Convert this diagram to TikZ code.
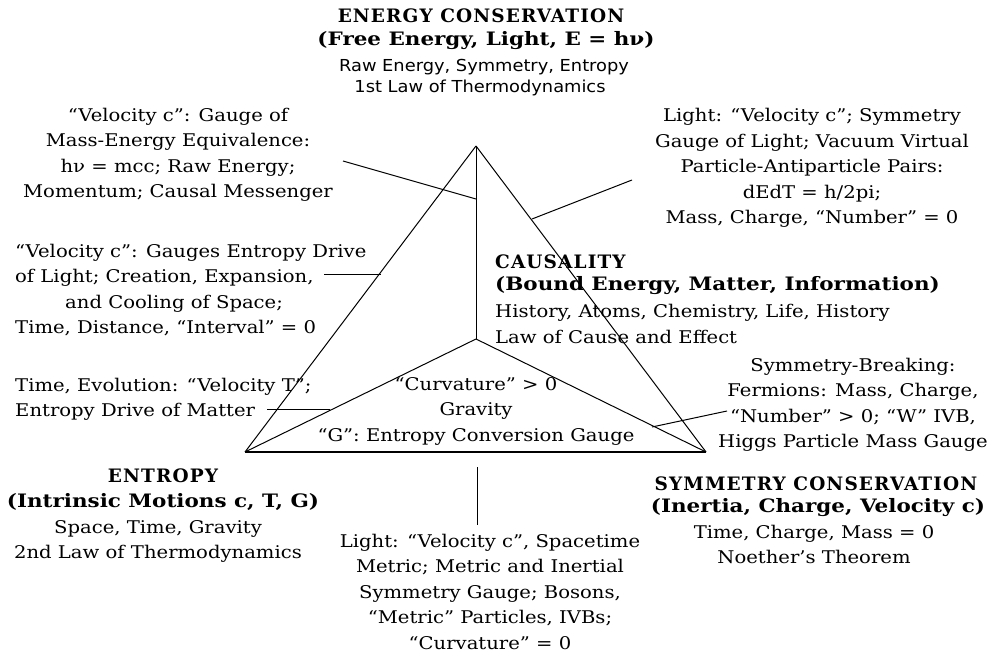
\documentclass[tikz,border=0pt]{standalone}
\usepackage{fontspec}
\setmainfont{DejaVu Serif}
\newfontfamily\bodyf{DejaVu Serif}[FakeStretch=1.12]
\newfontfamily\boldf{DejaVu Serif}[FakeStretch=1.16]
\newfontfamily\capsf{DejaVu Serif}[LetterSpace=6]
\newfontfamily\sansf{DejaVu Sans}[FakeStretch=1.08]
\begin{document}
\begin{tikzpicture}[x=1pt,y=-1pt,
  body/.style={font=\bodyf\fontsize{17.5}{25.5}\selectfont, align=center, inner sep=0pt},
  bhead/.style={font=\boldf\bfseries\fontsize{18.5}{22}\selectfont, inner sep=0pt},
  chead/.style={font=\capsf\bfseries\fontsize{18.5}{20}\selectfont, inner sep=0pt},
  sanst/.style={font=\sansf\fontsize{16.5}{19}\selectfont, inner sep=0pt},
  edgeline/.style={line width=1pt, line join=round},
  baseline2/.style={line width=2pt},
  leader/.style={line width=1pt}]
\useasboundingbox (0,0) rectangle (994,652);
% vertices
\coordinate (A) at (476,146);
\coordinate (BL) at (245,452);
\coordinate (BR) at (706,452);
\coordinate (C) at (476,339);
% triangle
\draw[edgeline] (A) -- (BL);
\draw[edgeline] (A) -- (BR);
\draw[edgeline] (A) -- (C);
\draw[edgeline] (C) -- (BL);
\draw[edgeline] (C) -- (BR);
\draw[baseline2] (BL) -- (BR);
% leader end points
\coordinate (l1a) at (343,161);
\coordinate (l1b) at (476,199);
\coordinate (l2a) at (532,219);
\coordinate (l2b) at (632,180);
\coordinate (l3a) at (324,275);
\coordinate (l3b) at (381,275);
\coordinate (l4a) at (267,410);
\coordinate (l4b) at (330,410);
\coordinate (l5a) at (652,427);
\coordinate (l5b) at (727,411);
\coordinate (l6a) at (477,467);
\coordinate (l6b) at (477,525);
\draw[leader] (l1a) -- (l1b);
\draw[leader] (l2a) -- (l2b);
\draw[leader] (l3a) -- (l3b);
\draw[leader] (l4a) -- (l4b);
\draw[leader] (l5a) -- (l5b);
\draw[leader] (l6a) -- (l6b);
% top
\node[chead] (ec1) at (481,16) {ENERGY CONSERVATION};
\node[bhead] (ec2) at (486,41) {(Free Energy, Light, E = hν)};
\node[sanst] (ec3) at (484,67) {Raw Energy, Symmetry, Entropy};
\node[sanst] (ec4) at (480,88) {1st Law of Thermodynamics};
% left texts
\node[body] (lt1) at (178,155) {“Velocity c”: Gauge of\\Mass-Energy Equivalence:\\hν = mcc; Raw Energy;\\Momentum; Causal Messenger};
\node[body, align=left, anchor=west] (lt2) at (15,290) {“Velocity c”: Gauges Entropy Drive\\of Light; Creation, Expansion,\\\hspace*{50pt}and Cooling of Space;\\Time, Distance, “Interval” = 0};
\node[body, align=left, anchor=west] (lt3) at (15,399.5) {Time, Evolution: “Velocity T”;\\Entropy Drive of Matter};
% right texts
\node[body] (rt1) at (812,168) {Light: “Velocity c”; Symmetry\\Gauge of Light; Vacuum Virtual\\Particle-Antiparticle Pairs:\\dEdT = h/2pi;\\Mass, Charge, “Number” = 0};
\node[chead, anchor=west] (ca1) at (495,262) {CAUSALITY};
\node[bhead, anchor=west] (ca2) at (495,286) {(Bound Energy, Matter, Information)};
\node[body, align=left, anchor=west] (ca3) at (495,324) {History, Atoms, Chemistry, Life, History\\Law of Cause and Effect};
\node[body] (rt2) at (853,405) {Symmetry-Breaking:\\Fermions: Mass, Charge,\\“Number” > 0; “W” IVB,\\Higgs Particle Mass Gauge};
% inner
\node[body] (inner) at (476,411) {“Curvature” > 0\\Gravity\\“G”: Entropy Conversion Gauge};
% bottom left
\node[chead] (en1) at (163,476) {ENTROPY};
\node[bhead] (en2) at (163,502) {(Intrinsic Motions c, T, G)};
\node[body] (en3) at (158,541.5) {Space, Time, Gravity\\2nd Law of Thermodynamics};
% bottom centre
\node[body] (bc) at (490,591.5) {Light: “Velocity c”, Spacetime\\Metric; Metric and Inertial\\Symmetry Gauge; Bosons,\\“Metric” Particles, IVBs;\\“Curvature” = 0};
% bottom right
\node[chead] (sy1) at (816,484) {SYMMETRY CONSERVATION};
\node[bhead] (sy2) at (818,508) {(Inertia, Charge, Velocity c)};
\node[body] (sy3) at (814,544.5) {Time, Charge, Mass = 0\\Noether’s Theorem};
\end{tikzpicture}
\end{document}
